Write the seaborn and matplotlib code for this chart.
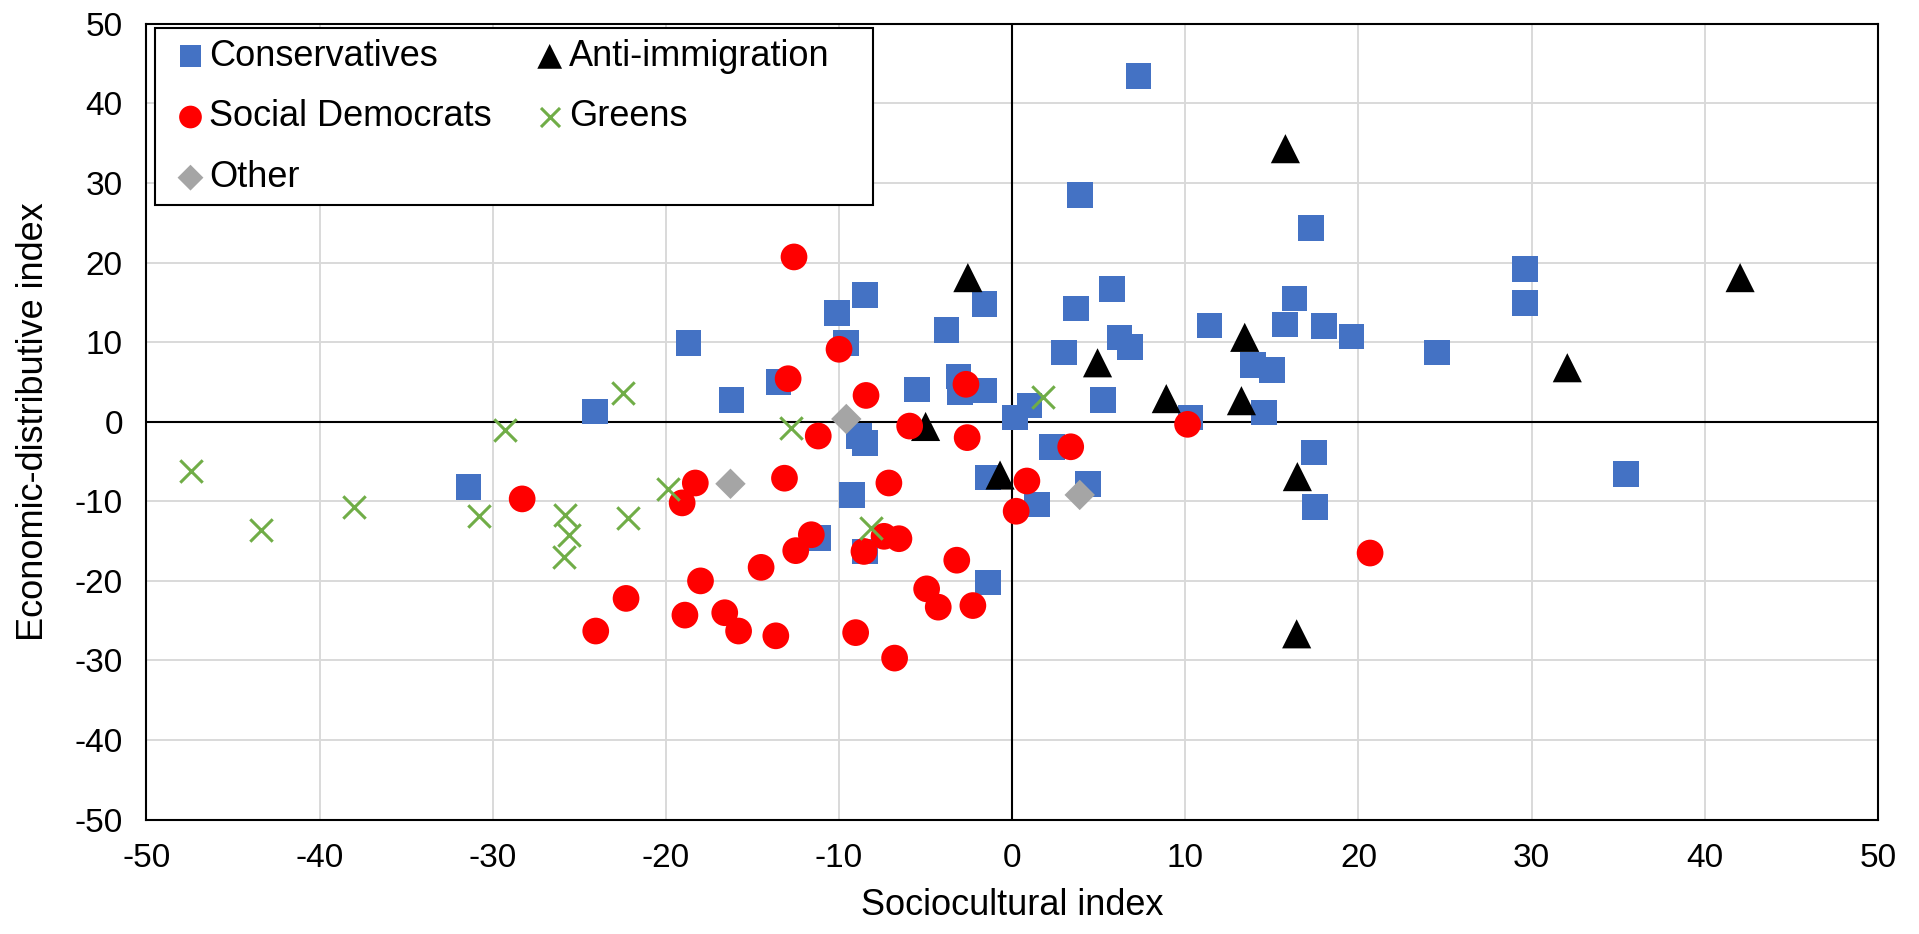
import numpy as np
import pandas as pd
import matplotlib
matplotlib.use("Agg")
import matplotlib.pyplot as plt
from matplotlib.patches import Rectangle
import seaborn as sns

# data (sociocultural index, economic-distributive index)
cons_x = [-31.4, -24.1, -18.7, -16.2, -13.5, -10.1, -9.6, -8.5, -5.5, -3.8,
          -3.1, -3.0, -1.6, -1.6, 0.15, 1.0, -8.85, -8.5, -9.25, -11.2,
          -8.5, -1.4, -1.4, 1.45, 2.3, 4.37, 5.24, 3.0, 3.7, 3.9,
          5.76, 6.2, 6.8, 7.3, 10.3, 11.4, 13.9, 15.0, 14.55, 15.76,
          16.3, 17.26, 18.0, 19.6, 17.44, 17.5, 24.55, 29.6, 29.6, 35.45]
cons_y = [-8.2, 1.3, 9.9, 2.7, 4.95, 13.65, 9.9, 15.9, 4.07, 11.5,
          5.7, 3.7, 3.9, 14.8, 0.55, 2.05, -1.8, -2.7, -9.2, -14.6,
          -16.3, -7.0, -20.2, -10.4, -3.2, -7.85, 2.72, 8.7, 14.2, 28.5,
          16.7, 10.6, 9.35, 43.4, 0.54, 12.1, 7.1, 6.5, 1.17, 12.2,
          15.5, 24.3, 12.0, 10.7, -3.85, -10.75, 8.7, 19.2, 14.9, -6.6]

anti_x = [-2.56, -5.0, -0.7, 4.93, 8.9, 13.24, 13.43, 15.78, 16.47, 16.43, 32.06, 42.04]
anti_y = [18.1, -0.6, -6.7, 7.4, 2.9, 2.64, 10.6, 34.3, -6.9, -26.65, 6.78, 18.1]

sd_x = [-28.3, -24.05, -22.3, -19.06, -18.3, -18.0, -18.9, -16.6, -15.8, -14.5,
        -13.65, -13.15, -12.6, -12.94, -12.5, -11.6, -11.2, -10.0, -8.44, -8.56,
        -7.4, -6.54, -7.12, -9.04, -6.79, -5.92, -4.94, -4.27, -3.2, -2.27,
        -2.67, -2.6, 0.85, 0.23, 3.38, 10.13, 20.67]
sd_y = [-9.7, -26.3, -22.2, -10.2, -7.7, -20.0, -24.3, -24.0, -26.3, -18.3,
        -26.9, -7.1, 20.7, 5.4, -16.2, -14.2, -1.8, 9.1, 3.3, -16.3,
        -14.4, -14.7, -7.7, -26.5, -29.7, -0.55, -21.0, -23.3, -17.4, -23.1,
        4.7, -2.0, -7.45, -11.25, -3.15, -0.33, -16.5]

green_x = [-47.4, -43.4, -38.0, -30.8, -29.3, -25.8, -25.6, -25.9, -22.5, -22.2,
           -19.9, -12.75, -8.17, 1.8]
green_y = [-6.2, -13.6, -10.75, -11.9, -1.0, -11.7, -14.2, -17.0, 3.6, -12.1,
           -8.4, -0.75, -13.3, 3.1]

other_x = [-16.27, -9.58, 3.9]
other_y = [-7.8, 0.34, -9.2]

ticks = [-50, -40, -30, -20, -10, 0, 10, 20, 30, 40, 50]

plt.rcParams["font.family"] = ["Liberation Sans", "DejaVu Sans"]
plt.rcParams["axes.unicode_minus"] = False

fig = plt.figure(figsize=(19.19, 9.34), dpi=100)
ax = fig.add_axes([0.0763, 0.1224, 0.9023, 0.8522])

# series in Excel drawing order (later ones on top)
series = [
    ("Conservatives", cons_x, cons_y, "s", "#4472C4", 340, 0),
    ("Anti-immigration", anti_x, anti_y, "^", "black", 440, 0),
    ("Social Democrats", sd_x, sd_y, "o", "#FF0000", 370, 0),
    ("Greens", green_x, green_y, "x", "#70AD47", 260, 2.2),
    ("Other", other_x, other_y, "D", "#A5A5A5", 240, 0),
]
for i, (name, xs, ys, mk, col, size, lw) in enumerate(series):
    df = pd.DataFrame({"x": xs, "y": ys})
    if mk == "x":
        sns.scatterplot(data=df, x="x", y="y", marker=mk, color=col, s=size,
                        linewidth=lw, label=name, ax=ax, zorder=3 + i)
    else:
        sns.scatterplot(data=df, x="x", y="y", marker=mk, color=col, s=size,
                        edgecolor="none", linewidth=0, label=name, ax=ax, zorder=3 + i)

ax.set_xlim(-50, 50)
ax.set_ylim(-50, 50)
ax.set_xticks(ticks)
ax.set_yticks(ticks)
ax.grid(True, color="#D9D9D9", linewidth=1.4, zorder=0)
ax.set_axisbelow(True)
ax.axhline(0, color="black", linewidth=1.5, zorder=2)
ax.axvline(0, color="black", linewidth=1.5, zorder=2)
for sp in ax.spines.values():
    sp.set_color("black")
    sp.set_linewidth(1.5)
ax.tick_params(length=0, labelsize=24, colors="black")
ax.tick_params(axis="x", pad=17)
ax.tick_params(axis="y", pad=17)

ax.set_xlabel("Sociocultural index", fontsize=26)
ax.set_ylabel("Economic-distributive index", fontsize=26)
ax.xaxis.set_label_coords(0.5, -0.086)
ax.yaxis.set_label_coords(-0.0553, 0.5)

# legend box drawn by hand so it can be as wide as the original
ax.add_patch(Rectangle((0.0047, 0.7722), 0.4149, 0.2224, transform=ax.transAxes,
                       facecolor="white", edgecolor="black", linewidth=1.5,
                       zorder=19))

handles, labels = ax.get_legend_handles_labels()
order = ["Conservatives", "Social Democrats", "Other", "Anti-immigration", "Greens"]
hl = dict(zip(labels, handles))
leg = ax.legend([hl[k] for k in order], order, ncol=2, loc="upper left",
                bbox_to_anchor=(0.0047, 0.9946), borderaxespad=0, fontsize=26,
                frameon=False, handlelength=1.39, handletextpad=-0.17,
                columnspacing=0.9, labelspacing=0.71, borderpad=0.3,
                markerscale=0.85)
leg.set_zorder(20)

fig.savefig("out.png", dpi=100)
